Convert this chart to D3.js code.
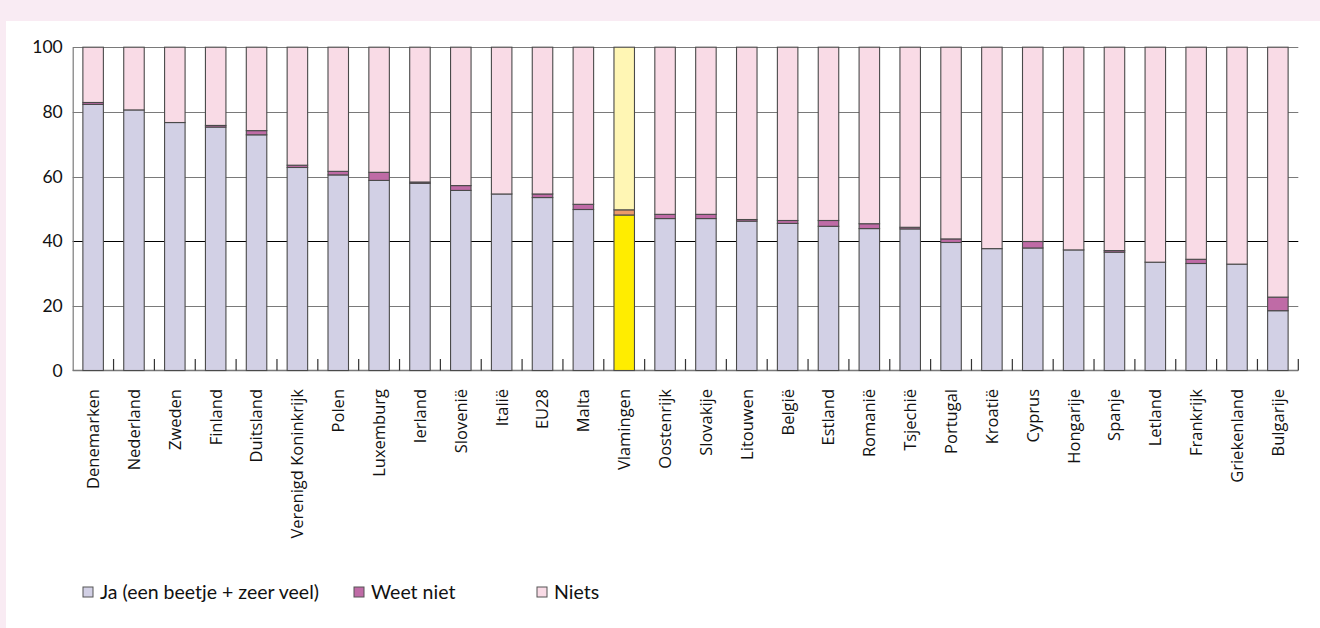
<!DOCTYPE html>
<html><head><meta charset="utf-8">
<script src="https://cdn.jsdelivr.net/npm/d3@7"></script>
<style>html,body{margin:0;padding:0;background:#fff}svg{display:block}</style>
</head><body>
<svg id="chart" width="1320" height="628"></svg>
<script>
const categories = ["Denemarken","Nederland","Zweden","Finland","Duitsland","Verenigd Koninkrijk","Polen","Luxemburg","Ierland","Slovenië","Italië","EU28","Malta","Vlamingen","Oostenrijk","Slovakije","Litouwen","België","Estland","Romanië","Tsjechië","Portugal","Kroatië","Cyprus","Hongarije","Spanje","Letland","Frankrijk","Griekenland","Bulgarije"];
const ja = [82.3,80.6,76.7,75.3,72.9,62.8,60.5,58.8,57.9,55.7,54.6,53.5,49.8,48.1,47.0,47.0,46.2,45.5,44.6,43.9,43.8,39.6,37.7,37.9,37.3,36.6,33.5,33.1,32.9,18.5];
const weetNiet = [0.6,0,0,0.5,1.3,0.7,1.1,2.5,0.4,1.5,0,1.1,1.6,1.6,1.3,1.3,0.5,0.9,1.8,1.5,0.5,1.1,0,2.0,0,0.5,0,1.3,0,4.2];
const niets = [17.1,19.4,23.3,24.2,25.8,36.5,38.4,38.7,41.7,42.8,45.4,45.4,48.6,50.3,51.7,51.7,53.3,53.6,53.6,54.6,55.7,59.3,62.3,60.1,62.7,62.9,66.5,65.6,67.1,77.3];
const yTicks = [0,20,40,60,80,100];
const seriesNames = ["Ja (een beetje + zeer veel)","Weet niet","Niets"];
const highlight = "Vlamingen";

const colors = {ja:"#d2d0e5", wn:"#bf6ba6", niets:"#f9dbe6"};
const hlColors = {ja:"#ffed00", wn:"#ec9a6a", niets:"#fff6b4"};

const svg = d3.select("#chart");
svg.append("rect").attr("width",1320).attr("height",628).attr("fill","#f9ebf3");
svg.append("rect").attr("x",6).attr("y",21).attr("width",1314).attr("height",607).attr("fill","#ffffff");

const x0 = 72.7, x1 = 1298.3, yB = 370.5, yT = 47.2;
const x = d3.scaleBand().domain(categories).range([x0, x1]).paddingInner(0.5).paddingOuter(0.25);
const y = d3.scaleLinear().domain([0,100]).range([yB, yT]);

// gridlines
svg.append("g").selectAll("line").data(yTicks.filter(d=>d>0)).join("line")
  .attr("x1",x0).attr("x2",x1).attr("y1",d=>Math.round(y(d))+0.5).attr("y2",d=>Math.round(y(d))+0.5)
  .attr("stroke",d=>d===40?"#000":"#7a7a7a").attr("stroke-width",1.2);

// y axis
const yAxis = svg.append("g").attr("transform",`translate(${x0},0)`)
  .call(d3.axisLeft(y).tickValues(yTicks).tickSize(0).tickPadding(10));
yAxis.select(".domain").attr("stroke","#7a7a7a").attr("stroke-width",1.2);
yAxis.selectAll("text").attr("font-family","Lato, sans-serif").attr("font-size",17.5).attr("fill","#111");

// bottom axis line
svg.append("line").attr("x1",x0).attr("x2",x1).attr("y1",yB).attr("y2",yB).attr("stroke","#7a7a7a").attr("stroke-width",1.5);

// band-boundary ticks
const step = x.step();
svg.append("g").selectAll("line").data(d3.range(1, categories.length+1)).join("line")
  .attr("x1",i=>x0+i*step).attr("x2",i=>x0+i*step).attr("y1",yB).attr("y2",yB-11.5)
  .attr("stroke","#333").attr("stroke-width",1.2);

// stacked data
const rows = categories.map((c,i)=>({cat:c, ja:ja[i], wn:weetNiet[i], niets:niets[i]}));
const keys = ["ja","wn","niets"];
const stacked = d3.stack().keys(keys)(rows);

const bw = 20.5;
const g = svg.append("g");
stacked.forEach(layer=>{
  g.selectAll(null).data(layer).join("rect")
    .attr("x",d=>x(d.data.cat)+x.bandwidth()/2-bw/2)
    .attr("width",bw)
    .attr("y",d=>y(d[1]))
    .attr("height",d=>Math.max(0,y(d[0])-y(d[1])))
    .attr("fill",d=>d.data.cat===highlight?hlColors[layer.key]:colors[layer.key])
    .attr("stroke","#4a4a4a").attr("stroke-width",1.1);
});

// x labels
svg.append("g").selectAll("text").data(categories).join("text")
  .attr("transform",d=>`translate(${x(d)+x.bandwidth()/2},389) rotate(-90)`)
  .attr("text-anchor","end").attr("dy","0.36em")
  .attr("font-family","'Open Sans', sans-serif").attr("font-size",16.5).attr("fill","#111")
  .text(d=>d);

// legend
const legendX = [83, 354, 537];
const legendColors = [colors.ja, colors.wn, colors.niets];
const lg = svg.append("g");
seriesNames.forEach((n,i)=>{
  lg.append("rect").attr("x",legendX[i]).attr("y",587).attr("width",10).attr("height",10)
    .attr("fill",legendColors[i]).attr("stroke","#555").attr("stroke-width",1);
  lg.append("text").attr("x",legendX[i]+17).attr("y",592).attr("dy","0.35em")
    .attr("font-family","Lato, sans-serif").attr("font-size",19.5).attr("fill","#111").text(n);
});
</script>
</body></html>
